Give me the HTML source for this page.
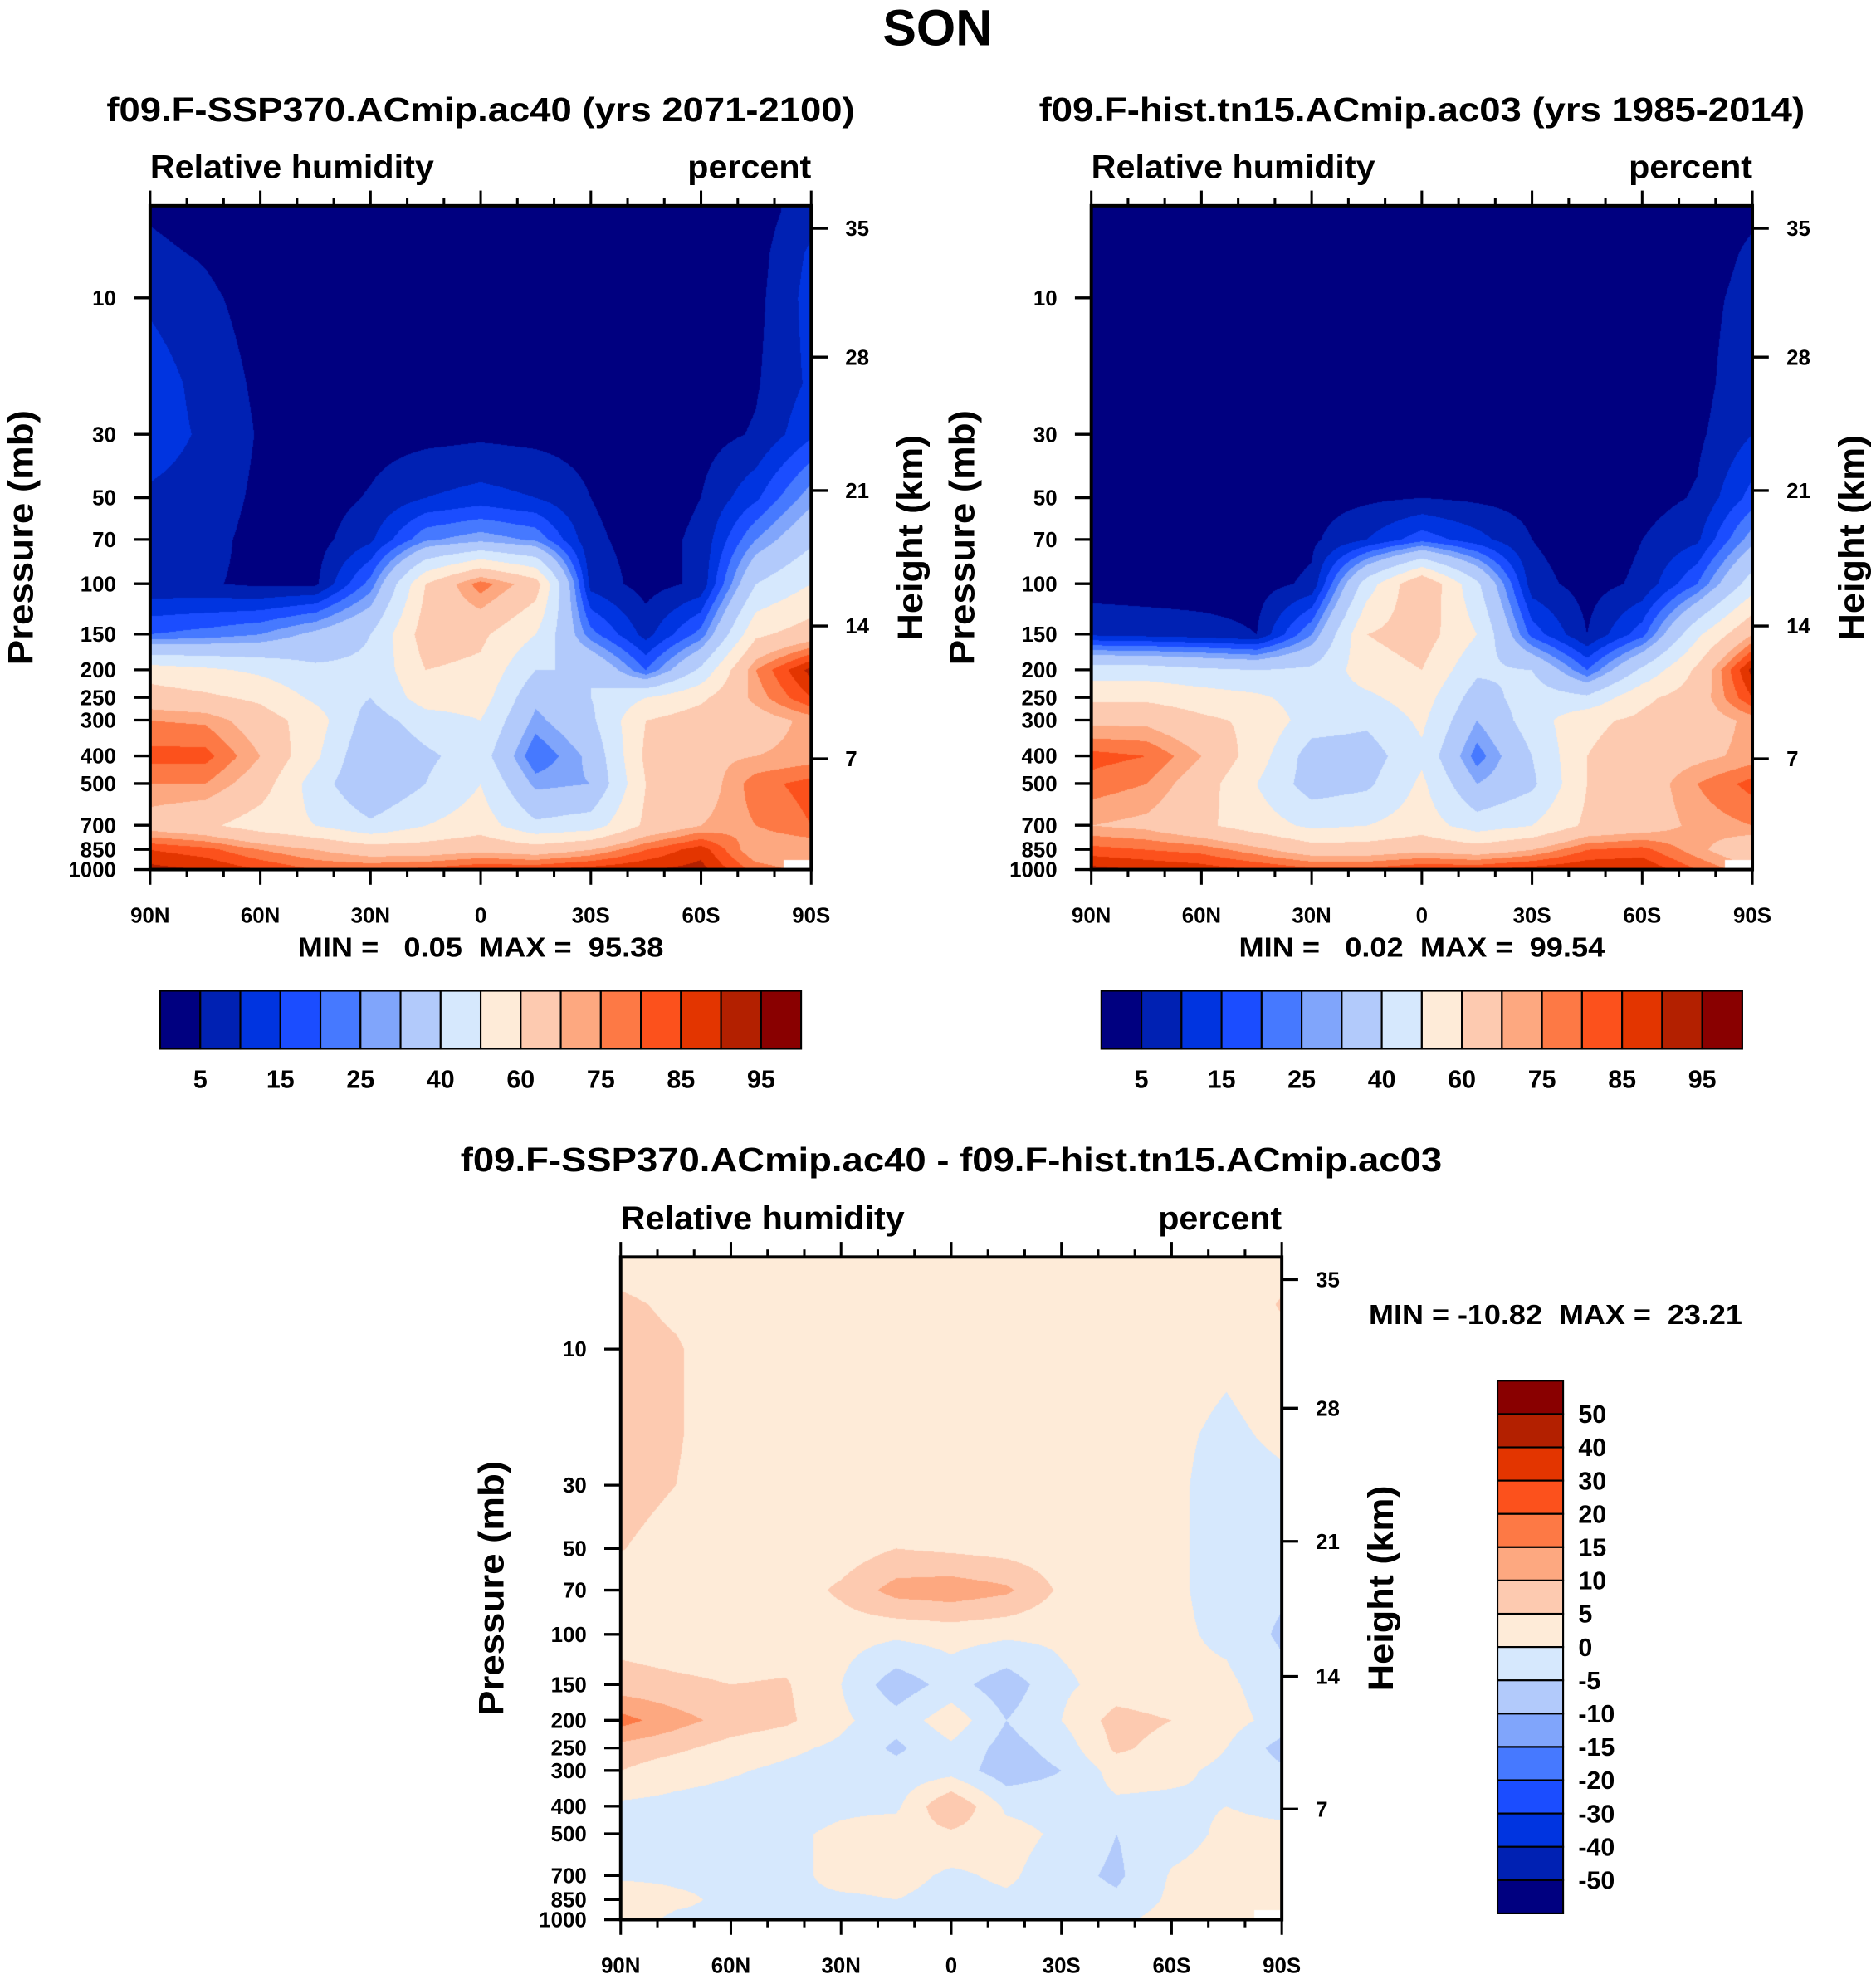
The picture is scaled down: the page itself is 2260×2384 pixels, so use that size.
<!DOCTYPE html>
<html><head><meta charset="utf-8">
<style>
html,body{margin:0;padding:0;background:#fff;}
#wrap{position:relative;width:2260px;height:2384px;overflow:hidden;background:#fff;}
canvas{position:absolute;}
svg{position:absolute;left:0;top:0;}
text{font-family:"Liberation Sans",Arial,sans-serif;font-weight:bold;fill:#000;white-space:pre;}
</style></head>
<body>
<div id="wrap">
<canvas id="c0"></canvas>
<canvas id="c1"></canvas>
<canvas id="c2"></canvas>
<svg id="s" width="2260" height="2384" viewBox="0 0 1487 1568" preserveAspectRatio="none"></svg>
</div>
<script>
// ---- data ----
const lats = ["90N","75N","60N","45N","30N","15N","0","15S","30S","45S","60S","75S","90S"];
const pressures = [5,7,10,20,30,50,70,100,150,200,250,300,400,500,700,850,1000];
const rhFuture = [
[4.5,3,2,2,2,2,2,2,2,2,2,2.5,8],
[6,4.5,2,2,2,2,2,2,2,2,2,3,11],
[9,6,3,2,2,2,2,2,2,2,2,3.5,12],
[13,8,4,2,2,2,2,2,2,2,2,4.5,11],
[13,9,4.5,2,3,3.5,4,3.5,3,2,3,5.5,14],
[9,7.5,4,2.5,5.5,10,12,10,5,2.5,5,14,28],
[7,6.5,3.5,3,9,24,28,24,6,3,6,25,38],
[6,5.5,4,4,22,60,78,65,8,3,6,40,50],
[20,22,25,32,40,65,62,50,22,8,22,58,65],
[55,52,48,42,42,60,58,40,40,20,42,75,92],
[65,62,58,48,40,55,55,32,40,50,58,72,85],
[75,74,65,55,35,45,50,28,38,60,65,66,72],
[82,82,70,52,30,38,45,20,32,62,68,70,72],
[75,75,65,45,30,40,50,28,30,60,65,78,82],
[66,62,55,50,42,50,55,42,45,62,70,75,80],
[85,82,75,70,65,65,68,65,70,80,88,70,70],
[92,90,85,80,80,82,85,85,88,90,92,78,null]];
const rhHist = [
[2,2,2,2,2,2,2,2,2,2,2,2,4],
[2,2,2,2,2,2,2,2,2,2,2,2,6],
[2,2,2,2,2,2,2,2,2,2,2,3,7],
[2,2,2,2,2,2,2,2,2,2,2,3,9],
[2,2,2,2,2,2,2.5,2,2,2,2,4,10],
[2,2,2,2,3,4,5,4,3,2,3,5.5,17],
[2,2,2,2,4,10,18,12,5,2,5,9,28],
[2.5,2.5,2.5,3,6,45,70,42,7,3,6,20,45],
[9,8,7,5,25,60,65,50,18,5,18,48,70],
[45,45,42,40,42,55,60,42,40,20,42,62,92],
[58,58,55,52,45,48,55,35,45,42,58,65,85],
[68,68,62,58,45,42,52,30,45,58,62,65,72],
[82,80,70,55,35,35,48,22,40,60,65,68,72],
[78,75,65,50,35,38,52,30,38,60,65,75,82],
[70,68,62,55,48,50,55,45,50,62,65,72,75],
[82,80,78,72,65,65,68,65,70,80,82,72,62],
[92,90,88,85,82,82,85,85,88,90,90,80,null]];
const rhDiff = [
[3,2,2,2,2,2,2,2,2,2,2,1,3],
[6,4,2,2,2,2,2,2,2,2,2,1,5.5],
[7,5.5,2,2,2,2,2,2,2,2,2,1,3],
[7.5,5.5,2,2,2,2,2,2,2,2,1,-1,1],
[7,5,2,2,2,2,2,2,2,2,1,-2,-1],
[5.2,3,2,2,2,5,4,3,2,2,1,-2,-2],
[3,2,2,2,6,12,13,11,4,2,1,-2,-4],
[3,2,2,2,2,1,2,1,1,2,1,-1,-6],
[7,6,5,5.5,0,-8,-3,-8,-1,2,1,1,-3],
[17,12,8,6,1,-3,3,-5,0,7,5,2,-2],
[8,6,3,1,-1,-6,-1,-7,-3,6,3,0,-7],
[5,2,0.5,-1,-2,-3,-2,-8,-5,2,1,-1,-4],
[-1,-1.5,-2,-2,-1,-1,10,-1,-2,-1,-1,0,-1],
[-2,-2,-2,-1,1,3,4,2,-1,-5,-2,1,1],
[-1,-1,-1,-2,2,2,-1,1,-3,-6,0.5,2,2],
[4,1,-1,-1,-1,0,-2,-1,-2,-4,1,2,1],
[2,-1,-1,-1,-1,-1,-1,-1,-1,-1,2,1,null]];
const levelsAbs = [5,10,15,20,25,30,40,50,60,70,75,80,85,90,95];
const levelsDiff = [-50,-40,-30,-20,-15,-10,-5,0,5,10,15,20,30,40,50];
const labelsAbs = ["5","15","25","40","60","75","85","95"];
const pressureTicks = [10,30,50,70,100,150,200,250,300,400,500,700,850,1000];
const heightTicks = ["35","28","21","14","7"];
const heightFrac = [0.034,0.228,0.429,0.633,0.833];
const lonLabels = ["90N","60N","30N","0","30S","60S","90S"];
const palette = ['#000080','#0021b3','#0034e0','#1b4dff','#4679ff','#80a5fb','#b2cafb','#d6e8fd','#feebd8','#fdcab0','#fda880','#fd7945','#fc511c','#e33500','#b32000','#890000'];

// ---- layout ----
const SX = 2260/1487, SY = 2384/1568;
const LTOP = Math.log10(4.76);
const panels = [
 {x0:119,y0:163,w:524,h:526,data:rhFuture,lev:levelsAbs},
 {x0:865,y0:163,w:524,h:526,data:rhHist,lev:levelsAbs},
 {x0:492,y0:996,w:524,h:525,data:rhDiff,lev:levelsDiff}];
function yOfP(P,p){return P.y0 + P.h*(Math.log10(p)-LTOP)/(3-LTOP);}
function xOfLat(P,deg){return P.x0 + P.w*(deg+90)/180;}
const hex = palette.map(c=>[parseInt(c.slice(1,3),16),parseInt(c.slice(3,5),16),parseInt(c.slice(5,7),16)]);
const logP = pressures.map(p=>Math.log10(p));

panels.forEach((P,k)=>{
  const cv=document.getElementById('c'+k);
  const L=Math.round(P.x0*SX), T=Math.round(P.y0*SY);
  const W=Math.round((P.x0+P.w)*SX)-L, H=Math.round((P.y0+P.h)*SY)-T;
  cv.width=W; cv.height=H; cv.style.left=L+'px'; cv.style.top=T+'px';
  const ctx=cv.getContext('2d'); const img=ctx.createImageData(W,H); const d=img.data;
  const nc=lats.length;
  for(let py=0;py<H;py++){
    const lp = LTOP + (py+0.5)/H*(3-LTOP);
    let r=0; while(r<logP.length-2 && lp>logP[r+1]) r++;
    let ty=(lp-logP[r])/(logP[r+1]-logP[r]); ty=Math.max(0,Math.min(1,ty));
    for(let px=0;px<W;px++){
      const u=(px+0.5)/W*(nc-1); let c=Math.min(nc-2,Math.floor(u)); const tx=u-c;
      let a=P.data[r][c],b=P.data[r][c+1],e=P.data[r+1][c],f=P.data[r+1][c+1];
      const i=(py*W+px)*4;
      const near = P.data[ty<0.5?r:r+1][tx<0.5?c:c+1];
      if(near===null){d[i]=255;d[i+1]=255;d[i+2]=255;d[i+3]=255;continue;}
      const vals=[a,b,e,f].filter(x=>x!==null); const avg=vals.reduce((s,x)=>s+x,0)/vals.length;
      if(a===null)a=avg; if(b===null)b=avg; if(e===null)e=avg; if(f===null)f=avg;
      const v=(a*(1-tx)+b*tx)*(1-ty)+(e*(1-tx)+f*tx)*ty;
      let idx=0; while(idx<P.lev.length && v>=P.lev[idx]) idx++;
      const col=hex[idx]; d[i]=col[0];d[i+1]=col[1];d[i+2]=col[2];d[i+3]=255;
    }
  }
  ctx.putImageData(img,0,0);
});

// ---- svg overlay ----
const NS="http://www.w3.org/2000/svg"; const svg=document.getElementById('s');
function mk(tag,attrs,parent){const e=document.createElementNS(NS,tag);for(const a in attrs)e.setAttribute(a,attrs[a]);(parent||svg).appendChild(e);return e;}
function txt(s,x,y,size,anchor,parent,extra){const e=mk('text',Object.assign({x:x,y:y,'font-size':size,'text-anchor':anchor||'start'},extra||{}),parent);e.textContent=s;return e;}

let t=txt("SON",743,36,40,"middle");



const titles=["f09.F-SSP370.ACmip.ac40 (yrs 2071-2100)","f09.F-hist.tn15.ACmip.ac03 (yrs 1985-2014)","f09.F-SSP370.ACmip.ac40 - f09.F-hist.tn15.ACmip.ac03"];
const titleLen=[593,607,778];
const titleY=[96,96,928];
const minmax=["MIN =   0.05  MAX =  95.38","MIN =   0.02  MAX =  99.54","MIN = -10.82  MAX =  23.21"];
const minmaxLen=[290,290,296];

panels.forEach((P,k)=>{
  const g=mk('g',{});
  
  
  const cx=P.x0+P.w/2;
  let e=txt(titles[k],cx,titleY[k],27,"middle",g,{textLength:titleLen[k],lengthAdjust:"spacingAndGlyphs"});
  
  
  e=txt("Relative humidity",P.x0,P.y0-22,26,"start",g,{textLength:225,lengthAdjust:"spacingAndGlyphs"});
  
  
  e=txt("percent",P.x0+P.w,P.y0-22,26,"end",g,{textLength:98,lengthAdjust:"spacingAndGlyphs"});
  
  
  e=mk('rect',{x:P.x0,y:P.y0,width:P.w,height:P.h,fill:'none',stroke:'#000','stroke-width':2.6},g);
  
  
  for(let i=0;i<=18;i++){
    const x=xOfLat(P,-90+i*10); const len=(i%3===0)?12:6;
    e=mk('line',{x1:x,y1:P.y0,x2:x,y2:P.y0-len,stroke:'#000','stroke-width':2},g);
    
    
    e=mk('line',{x1:x,y1:P.y0+P.h,x2:x,y2:P.y0+P.h+len,stroke:'#000','stroke-width':2},g);
    
    
  }
  lonLabels.forEach((s,i)=>{
    e=txt(s,xOfLat(P,-90+i*30),P.y0+P.h+42,17,"middle",g);
    
    
  });
  pressureTicks.forEach(p=>{
    const y=yOfP(P,p);
    e=mk('line',{x1:P.x0,y1:y,x2:P.x0-13,y2:y,stroke:'#000','stroke-width':2.2},g);
    
    
    e=txt(String(p),P.x0-27,y+6,17,"end",g);
    
    
  });
  heightTicks.forEach((s,i)=>{
    const y=P.y0+P.h*heightFrac[i];
    e=mk('line',{x1:P.x0+P.w,y1:y,x2:P.x0+P.w+13,y2:y,stroke:'#000','stroke-width':2.2},g);
    
    
    e=txt(s,P.x0+P.w+27,y+6,17,"start",g);
    
    
  });
  const my=P.y0+P.h/2;
  e=txt("Pressure (mb)",P.x0-93,my,28,"middle",g,{transform:`rotate(-90 ${P.x0-93} ${my})`,textLength:202,lengthAdjust:"spacingAndGlyphs"});
  
  
  e=txt("Height (km)",P.x0+P.w+88,my,28,"middle",g,{transform:`rotate(-90 ${P.x0+P.w+88} ${my})`,textLength:163,lengthAdjust:"spacingAndGlyphs"});
  
  
  if(k<2){
    e=txt(minmax[k],cx,758,22,"middle",g,{textLength:minmaxLen[k],lengthAdjust:"spacingAndGlyphs"});
    
    
    const bx=P.x0+8, bw=508/16;
    for(let j=0;j<16;j++){
      e=mk('rect',{x:bx+j*bw,y:785,width:bw,height:46,fill:palette[j],stroke:'#000','stroke-width':1.4},g);
      
      
    }
    labelsAbs.forEach((s,j)=>{
      e=txt(s,bx+(2*j+1)*bw,862,20,"middle",g);
      
      
    });
  } else {
    e=txt(minmax[k],1085,1049,22,"start",g,{textLength:minmaxLen[k],lengthAdjust:"spacingAndGlyphs"});
    
    
    const bh=422/16;
    for(let j=0;j<16;j++){
      e=mk('rect',{x:1187,y:1094+j*bh,width:52,height:bh,fill:palette[15-j],stroke:'#000','stroke-width':1.4},g);
      
      
    }
    for(let j=0;j<15;j++){
      e=txt(String(levelsDiff[14-j]),1251,1094+(j+1)*bh+7,20,"start",g);
      
      
    }
  }
});
</script>
</body></html>
